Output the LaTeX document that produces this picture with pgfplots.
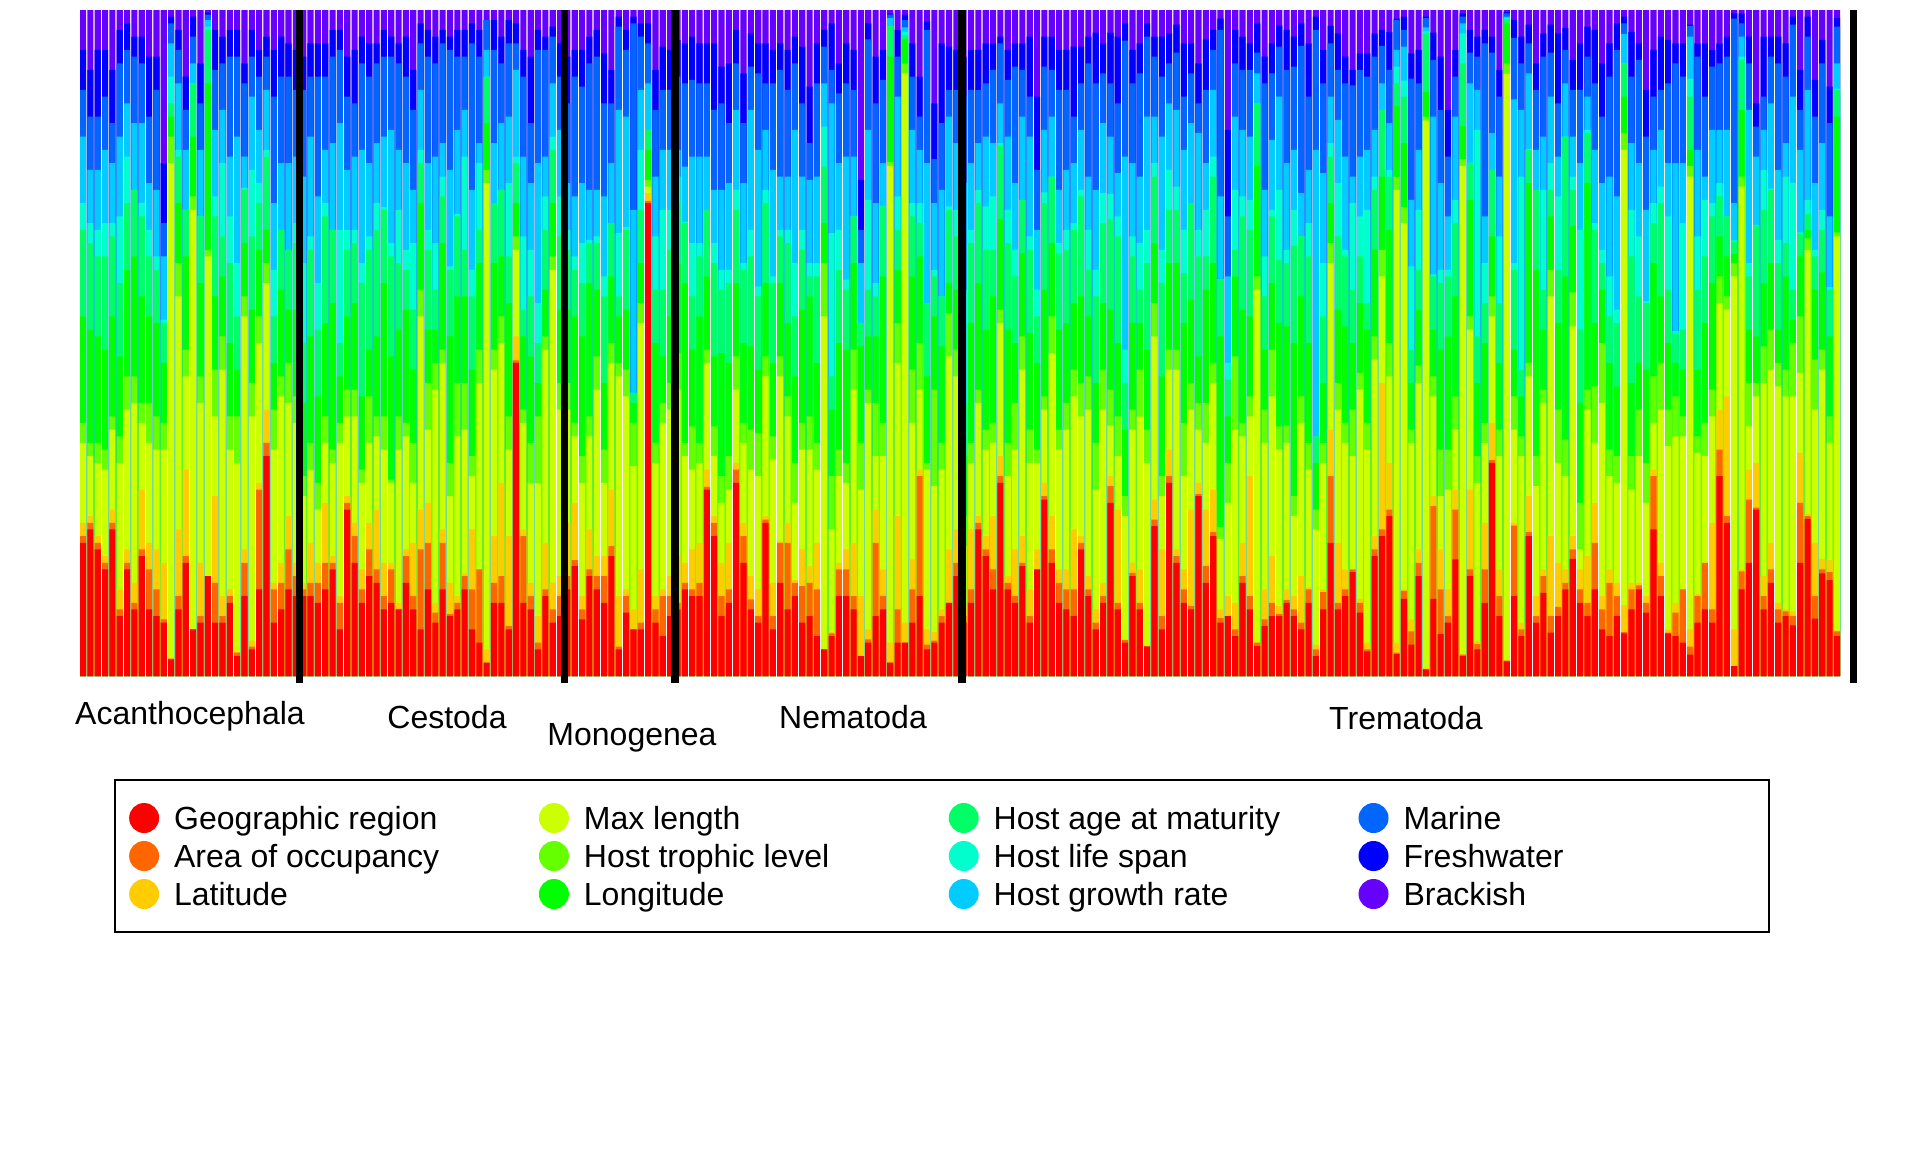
\documentclass[border=0pt]{standalone}
\usepackage{fontspec}
\setmainfont{Liberation Sans}
\usepackage{pgfplots}
\usepackage{pgfplotstable}
\pgfplotsset{compat=1.18}

\definecolor{cGeo}{HTML}{FF0000}
\definecolor{cArea}{HTML}{FF6600}
\definecolor{cLat}{HTML}{FFCC00}
\definecolor{cMax}{HTML}{CCFF00}
\definecolor{cTro}{HTML}{66FF00}
\definecolor{cLon}{HTML}{00FF00}
\definecolor{cAge}{HTML}{00FF66}
\definecolor{cLife}{HTML}{00FFCC}
\definecolor{cGrow}{HTML}{00CCFF}
\definecolor{cMar}{HTML}{0066FF}
\definecolor{cFresh}{HTML}{0000FF}
\definecolor{cBrack}{HTML}{6600FF}

% one stacked layer, drawn as a bar from 0 up to the layer's cumulative top
\pgfplotsset{lay/.style={ybar, bar width=0.8333, bar shift=0pt, draw=none, fill=#1, forget plot}}

% cumulative top of each layer (percent of the bar), one row per species
% rows 0-29 Acanthocephala, 30-65 Cestoda, 66-80 Monogenea, 81-119 Nematoda, 120-239 Trematoda
\pgfplotstableread{
gr ao la ml tl lo am ls gw ma fw bk
20 21 23 35 38 54 67 71 81 88 94 100
22 23 24 33 35 52 65 68 76 84 91 100
19 20 21 32 35 51 63 67 76 84 94 100
16 17 18 31 34 49 63 68 79 87 94 100
22 23 25 37 39 54 66 68 77 83 91 100
9 10 13 32 36 48 59 69 81 92 97 100
16 17 19 40 45 61 71 78 86 94 98 100
10 11 14 41 45 63 73 73 83 93 96 100
18 19 28 38 41 57 69 71 83 92 96 100
10 16 20 35 41 54 63 67 74 84 93 100
9 13 19 34 39 53 61 63 73 88 93 100
8 8.5 17 34 38 47 53 53.5 63 68 77 100
2.5 2.6 2.7 77 81 84 86 90 95 98 99 100
10 12 22 57 62 71 78 79 89 94 97 100
17 18 31 45 49 63 70 70 79 85 90 100
7 7 7 70 72 81 89 89 92 96 99 100
8 9 17 41 45 59 69 69 79 86 92 100
15 15 15 63 64 89 97 97.5 98.5 99.3 99.6 100
8 14 27 39 46 57 69 72 82 91 97 100
8 9 12 46 51 60 66 77 85 92 96 100
11 12 13 34 39 50 62 69 78 93 97 100
3 3.5 3.6 32 39 46 54 62 81 93 97 100
12 17 19 54 57 65 73 73.3 78 89 92 100
4 4.4 5.3 39 44 55 66 76 87 93 97 100
13 28 29 50 54 64 71 74 82 90 94 100
33 35 40 59 62 67 78 79 88 93 96 100
8 13 14 34 40 47 54 61 71 87 94 100
10 14 17 42 45 58 67 67 77 90 96 100
13 19 24 41 47 55 64 64 77 90 95 100
12 15 17 38 42 55 65 68 78 88 94 100
12 13 14 27 30 41 50 62 75 88 93 100
12 14 20 31 35 51 64 66 81 90 95 100
11 14 17 25 29 42 52 59 72 90 95 100
13 17 26 35 39 53 69 71 79 90 95 100
16 17 18 32 34 56 67 67 80 93 97 100
7 11 12 35 38 45 50 67 83 94 97 100
25 26 27 39 43 54 64 67 76 87 93 100
17 21 23 39 43 56 65 67 78 86 94 100
11 13 16 29 31 42 59 62 79 92 96 100
15 19 23 35 42 49 64 66 77 90 95 100
14 16 25 36 39 51 67 71 80 92 95 100
10 12 17 34 39 59 70 70.4 81 93 97 100
11 16 17 29 29.5 48 63 65 82 93 96 100
10 10.1 11 34 39 52 62 70 79 92 95 100
14 18 19 36 38 55 61 64 77 90 96 100
10 12 20 29 35 46 55 65 73 85 91 100
7 19 25 54 58 71 77 79 88 95 98 100
13 20 26 37 44 52 64 67 77 93 97 100
8 9.5 11 43 47 52 58 65 78 92 96 100
13 20 22 47 49 65 72 75 80 95 97 100
9 9.3 14 27 32 51 61 61.5 76 94 96 100
10 11 12 36 44 57 69 69.4 82 93 97 100
13 15 15.4 37 44 57 64 78 85 93 97 100
7 13 22 30 33 46 57 61 73 95 98 100
5 16 16 44 49 62 67 77 80 93 97 100
2 2 4 74 76 83 90 90 94 98.5 98.5 100
11 14 21 46 49 62 71 71 80 94 98.5 100
11 15 29 50 54 63 73 73 83 92 96 100
7 7.5 21 34 39 56 63 74 84 95 98.5 100
47 47.4 51 64 66 71 77 78 91 95 98 100
11 21 22 38 40 51 55 66 78 90 94 100
10 12 14 29 35 48 57 64 74 83 93 100
4 5 9 29 39 44 50 56 77 94 97 100
12 13 20 49 51 58 67 72 78 94 96 100
8 10 14 61 63 71 79 81 89 96 97.5 100
9 12 15 40 44 55 66 72 82 90 95 100
13 15 23 40 44 55 64 67 74 86 93 100
16.5 17.4 26 36 38 54 61 63 72 90 94 100
8.5 10 12 29 33 51 59 65 74 88.5 94 100
15 16 22 36 39 59 65 65.5 73 92 96 100
13 15 18 43 48 58 65 66 73 93 97 100
11 15 18 29 34 44 57 60 72 86 93.5 100
18 19.5 28 47 50 60 68 68 77 86 91 100
4 4.4 12 45 47 54 57 66.5 85 97.5 99 100
9.5 12 13 42 46 55 67 67.4 84 94 97 100
7 7 10 31.5 38 41 42.5 42.5 70 98 99 100
7 8 16 53 56 62 70 79 88 96 98 100
71 71.3 72.5 73.5 74.5 79 82 82 89 95 98 100
8 10 12 32 35 50 58 66 75 85 91 100
6 12 13 38 41 48 58 70 79 88 94.5 100
9 12 15 40 44 54 64 70 79 88 94 100
10 11 18 43 48.5 62 71 75 79 90 95.5 100
13 14 17 33 35 59 68 68.2 76.5 89 95 100
12 13 19 31 37.5 49 57 65 78 89.5 96 100
12 14 20 32 35 54 63 65 78 89 95 100
28 28.4 31 47 49 60 70 70 78 89 95 100
21 23 24 33 37.5 48 62 65 73 85 95 100
9 12 17 26 30 48.5 58 61 73 86 91.5 100
11 13 20 28 33 47 59 61 74 83 92 100
29 31 32 43 48 59 70 73 85 92 97 100
17 21 23 35 38 50 61 62 74 83 90.5 100
10 11.5 15 31 37 49.5 63 67 85 91.5 96.5 100
8 9 13 30 36.5 46 57 58.5 79 90.5 95 100
23 23.5 24 45 48 59 71 73 82 89 95 100
7 9 14 32.5 36 47 59 60 76 89 94 100
14 20 20.2 45 48 59 66 67 75 91 95 100
10 20 23 39 42 53 65 67 75 88 94 100
12 14 14.4 26 32 45 54 62 82 92 96 100
8 13.5 19 34 38 55 64 67 75 86 94.5 100
9 14 16.5 34 39 57 60 62 74.5 80 88.5 100
6 13 20 31 35 47 60 62 75 89 95 100
4 4 4 54 62 68 76.5 82.5 89 94.5 97 100
6 6.4 6.6 22 30 40 45 66.5 86 91 98 100
12 16 17 30 34 50 61 67 77 87.5 92 100
12 16 19 29 32 49 58 59.5 78 89 95 100
10 12 20 43 49 62 69 69 78 88 94 100
3 3 12 28 35 49.5 53 53 62 67 74.5 100
5 5.5 7 41 43 51 58 71.5 82 95.6 98 100
9 20 25 33 41 51 57 59 71 86 93 100
10 12 16 33 38 60 70.5 70.5 77 89.5 94 100
2 2 5 76.6 77.2 93 97.6 97.6 98.8 99.3 99.5 100
5 10 24 47 53 61 67 72 87 93 97 100
5 5 8 90.5 92 95.6 96.2 96.7 97.4 98.5 99.3 100
8 13 17.5 38 46 60 69 71 82 90 95 100
12 30 31 43 50 63 68 71 79 84 90 100
4 4.7 7 31 32 45 56 56 77 97 98.3 100
5 5.3 6.6 28.5 43 54 60 61 71 77.6 86 100
8 9 10 31 35 49.5 57 57 73 83 95 100
11 11 19 48 54.5 59 70 70.5 84 88 94.5 100
15 17 22 45 49 58 66 70 80 88 94 100
8 9 10.5 19.5 24 33 41 58 74 87 93 100
11 13 22 32 35 53 65 67 77 88 94 100
22 23 24 41 43 59 71 73 80 88 94 100
18 19 21 34 37 52 64 70.5 81 89 95 100
13 16 24 35 38 57 64 72 80 91 95 100
29 30 33 53 55 68.6 79.6 80 86 95 96 100
13 14 15 30 35 52 65 70 81 89.5 94 100
11 12 19 34 41 50 60 64 74 91.5 95 100
16.5 17 21 46 51 63.5 71.5 71.5 84 91 95 100
8 9 13 32 37 51.5 64 66 81 87 96 100
16 16 19 32 34 47 54 58 67 76 87 100
26.5 27 29 40 42 58 71 72.6 82 91.5 96 100
17 19 24 48.5 54 65 75 75 84 91 96 100
11 14 16 34 37 52 63.5 65 73 88 94 100
10 13 16 37 41 53 64 67 76 88 94 100
9 13 22 42 46 56 67 68 77 84 94.5 100
19 20 21 39 44 57 72 73 82 89 94.5 100
12 13 15 40 45 54 61 67 75 92 96 100
7 8 10 28 35 44 57 61 73 89 96.6 100
11 12 14 40 46 56 68 72.5 83 90.5 95 100
26 28.5 30 37.6 43 55 68.6 72.4 81 89 96.6 100
10 11 25 33 39 50 66 69 75.5 86 96 100
5 5.4 5.5 24 27 37 44 49 78 95.4 98 100
15 15.5 17 37 40 53 63 66 77 89 94 100
10 11 16 39 46 53 58 65 75 90.5 95 100
4.4 4.5 4.6 32 37 49 62 67 84 96 98 100
22.5 23.5 26.5 51 56 65 75 77 84 93 96 100
7 9 19 27 30 45 59 64 81 90 96 100
29 30 34 46 49 62 70 76 86 92 96.5 100
17 18 19 46 49 62 70 73.5 85 93.6 97.8 100
11 13 16 30 38 53 60.5 67 79 87 95 100
10 10.5 25 40 44 56.5 71 71 83 90.5 95 100
27 27.3 29 37 41 48 63 67 81.5 86 92 100
14 16.5 25 35 41 58 63 70 77 88 95.6 100
21 21.6 28 44 47 62 75 78 88 94 97 100
8 8.7 10 20.6 22.4 51 59.6 59.6 72 97 98.7 100
9 9 12 26 32 39 44.5 47 60 69 82 100
6 7 11 37 48 60 64 73 84 92 97 100
14 15 20 36 38 55 69 72 82 91 96 100
10 12 30 39 42 54 67 71.5 81 91 95 100
4.5 5 5 58 60 76.6 86 86 90.5 93.6 98 100
7.5 8.5 13 35 40 49 57 63 73 89 93 100
9 11 18 42 49 59 69 70 80.5 90.5 95 100
9 9.3 10.5 34 37.5 53 62.5 73 87 94.5 97.7 100
11 11.4 13 35 37.6 52.5 62 64 77 91 97 100
9 10 12 24 27 50 64.6 70 79 91.5 96 100
7 8 15 38 42 57 66 66 72.5 94.6 98 100
11 13 13.3 31 35 50 63 68 76 87 95 100
3 4 4.7 22 25 32 36 36 79 97 99 100
10 12.6 13 32 35 44 54 62 75.5 89 94 100
20 30 37 62 65 71 78 80 87 95 97.6 100
10 11 20 40 44 55 66 74 83.5 91 96.5 100
12 13 16 35 38 52.5 63 64 78 89 93 100
15.6 16 16 33 40 50 58 71 75 88.7 91 100
9.5 11 11.6 43 45.5 56 63 69 78 91 93.5 100
3.7 4 5 34 38 52 56 70 79 90 93.5 100
18 19 21 47.5 51 64 73 75 82 93 96.5 100
21 22 44 60 64 75 85 85 89 94.6 97 100
24 25 32 45 50 67 75 76 83 91 96.7 100
3.3 3.5 5 73 75 85.6 89 91.5 94 98.5 98.7 100
11.6 12.8 13 68 70.4 80 87 89.4 94.5 97 99 100
4.7 6.7 8.5 35 37 44 49 61.5 71.5 89.7 93.5 100
15 17 19 44 46.6 55 61 70 79 89 94 100
1 1 1.2 83.4 84 87.7 96.5 96.8 97.4 98.8 99 100
11.6 25.5 27 42 45 52 60 60.3 84 92.5 96.6 100
6.3 13 19 27 34 49 59 61 74 85 93 100
8 9 13 28 34 51 60 61 69 78 85 100
17.5 25 28 37 42 57 68 71.5 84 90 94 100
3 3.2 3.3 76.6 77.6 82.6 92 96.5 98 99 99.5 100
15 16 28 52 54 71.5 77 77.1 89 93.6 97 100
4 4.8 5.2 29 33 44 51 82 88 93 96 100
11 16 23 35 38 50 56 62 69 95 97 100
32 32.4 38 54 57 66 76 76 81.5 93.6 96 100
9 12 16 33 37 47 56 66 75 87 91 100
2.2 2.3 2.4 90.4 92 98 98.6 98.8 99 99.5 99.7 100
12 22.6 23 37 42 49 61 62 86.6 95.8 98.5 100
6 7 8 33 36 42 46 75 85 92 96 100
21 21.6 27 45 47 74 79 79.1 90.5 95 97.8 100
8 9 12 28.5 33 61 73 73 79 88 92 100
12.5 15 16 41 43 52 58 73 81 93 96.5 100
6.5 9 21 57 61 69 73 77 87 93.6 97.8 100
9 10.4 17 32 40 53 61 72 78 86 96.5 100
13 14 16 30 35.5 60 81 81 89 94 97.3 100
17.6 19 21 52.5 57.6 67.6 73 75 81 88 92.5 100
11 13 16 19 26 41 52 67 77 88 95 100
9 11 18 40 43 74 81.5 82 87 93 97.5 100
13 20 26 35 43.5 53 67 68 79 89 97 100
7 10 12 41 50 58 62 64 74 84 92 100
6 14 16 30 34 47 54 60 75 90 95 100
9 12 14 29 33 43.5 53 55 72 94 98 100
6.4 6.6 10.6 79 81.5 87 92 92 96.4 98 99 100
10 13 14 28 33 44 63 70 80 90 96.7 100
13 13.6 14 33 40 47 57 66 77 92.5 95 100
9.5 11 12 26 32 46 56 56.3 70 81 88 100
22 30 31 38 45 62 68 71 79 87 94 100
12 15 17 40 47 57 71 73.5 82 88 96 100
6.4 6.5 7 34.5 40 50 58 69 77 89 95.5 100
6 9.5 11 36 42 47 51.4 51.8 77 92 95 100
5 13 13.1 36 39 46 52 68 77 90 95 100
3.2 4.4 7 75 76.6 79 87 89.7 96 97.6 97.8 100
8 12 12.3 33.5 36 46 58 66 79 93 95 100
10 17 17 33 38 53 63 71.5 75 87 95 100
8 10 23 39 43 59 69 71 82 91.5 94 100
30 34 40 56 60 66 72 74 82 92 95 100
23 24 42 55 57 63 69 69 82 93 96 100
1.5 1.5 7 60 62 63.4 65.2 65.4 71 98.7 99.5 100
13 15.7 16 73.5 75 85 92.5 93 96 98 99.5 100
17 26.5 31 37.5 44 52 60 62 85 92 96 100
25 25.3 32 42 44 51 67.6 67.7 78 82.5 86 100
10 12 15 44 49.5 59 70 76 82 87 96 100
14 16 20 46 52 62 73 73.2 86 93 96 100
8 10 11 43.5 47 52 62 65.5 76 92 96 100
9 9.7 10 42 46 60 65 75 80 90 95 100
7.6 9 9.7 42 50 53.5 58 74 87 97.8 99 100
17 26 33.5 45.5 54 63 66.4 66.6 79 85 91 100
23.6 24 24.4 64 65.7 67 69.4 71.5 88 96 99 100
8.6 12 20 40 47.5 58 63 64 74 84 89.5 100
15.4 16 17.6 46 49 60.6 67 70 80 92 95.5 100
14.4 15.6 17.4 35 39 51 58 58.4 69 83 88.5 100
6 6.7 6.8 66 66.6 84 88 88.2 92 97.5 98.8 100
}\data

\begin{document}
\begin{tikzpicture}
\useasboundingbox (0,0) rectangle (960pt,-576pt);
\begin{axis}[
    at={(40pt,-338pt)}, anchor=south west,
    scale only axis, width=880pt, height=333pt,
    xmin=-0.4167, xmax=239.4167,
    ymin=0, ymax=100,
    hide axis, clip=false,
    legend columns=4,
    legend image code/.code={\fill[#1] (0pt,0pt) circle (7pt);},
    legend style={
        at={(0.0194,-0.15465)}, anchor=north west,
        draw=black, line width=1pt, fill=white,
        inner xsep=7pt, inner ysep=10pt,
        row sep=1pt, column sep=7.5pt,
        /tikz/every even column/.append style={column sep=13pt},
        font=\fontsize{16}{19}\selectfont,
        cells={anchor=west},
        nodes={inner sep=0pt, text height=14.5pt, text depth=3.5pt},
    },
]
% legend, filled row by row as in the reference
\addlegendimage{cGeo}\addlegendentry{\makebox[169.4pt][l]{Geographic region}}
\addlegendimage{cMax}\addlegendentry{\makebox[169.4pt][l]{Max length}}
\addlegendimage{cAge}\addlegendentry{\makebox[169.4pt][l]{Host age at maturity}}
\addlegendimage{cMar}\addlegendentry{\makebox[175.7pt][l]{Marine}}
\addlegendimage{cArea}\addlegendentry{\makebox[169.4pt][l]{Area of occupancy}}
\addlegendimage{cTro}\addlegendentry{\makebox[169.4pt][l]{Host trophic level}}
\addlegendimage{cLife}\addlegendentry{\makebox[169.4pt][l]{Host life span}}
\addlegendimage{cFresh}\addlegendentry{\makebox[175.7pt][l]{Freshwater}}
\addlegendimage{cLat}\addlegendentry{\makebox[169.4pt][l]{Latitude}}
\addlegendimage{cLon}\addlegendentry{\makebox[169.4pt][l]{Longitude}}
\addlegendimage{cGrow}\addlegendentry{\makebox[169.4pt][l]{Host growth rate}}
\addlegendimage{cBrack}\addlegendentry{\makebox[175.7pt][l]{Brackish}}

% layers, tallest cumulative first
\addplot[lay=cBrack] table[x expr=\coordindex, y=bk] {\data};
\addplot[lay=cFresh] table[x expr=\coordindex, y=fw] {\data};
\addplot[lay=cMar]   table[x expr=\coordindex, y=ma] {\data};
\addplot[lay=cGrow]  table[x expr=\coordindex, y=gw] {\data};
\addplot[lay=cLife]  table[x expr=\coordindex, y=ls] {\data};
\addplot[lay=cAge]   table[x expr=\coordindex, y=am] {\data};
\addplot[lay=cLon]   table[x expr=\coordindex, y=lo] {\data};
\addplot[lay=cTro]   table[x expr=\coordindex, y=tl] {\data};
\addplot[lay=cMax]   table[x expr=\coordindex, y=ml] {\data};
\addplot[lay=cLat]   table[x expr=\coordindex, y=la] {\data};
\addplot[lay=cArea]  table[x expr=\coordindex, y=ao] {\data};
\addplot[lay=cGeo]   table[x expr=\coordindex, y=gr] {\data};

% group separators
\addplot[black, line width=3.8pt, forget plot] coordinates {(29.5,-1.1) (29.5,100)};
\addplot[black, line width=3.8pt, forget plot] coordinates {(65.6,-1.1) (65.6,100)};
\addplot[black, line width=3.8pt, forget plot] coordinates {(80.65,-1.1) (80.65,100)};
\addplot[black, line width=3.8pt, forget plot] coordinates {(119.75,-1.1) (119.75,100)};
\addplot[black, line width=3.8pt, forget plot] coordinates {(241.25,-1.1) (241.25,100)};
\end{axis}
\begin{scope}[font=\fontsize{16}{19}\selectfont]
\node[anchor=base, inner sep=0pt] at (95pt,-362.2pt) {Acanthocephala};
\node[anchor=base, inner sep=0pt] at (223.5pt,-364.2pt) {Cestoda};
\node[anchor=base, inner sep=0pt] at (316pt,-372.5pt) {Monogenea};
\node[anchor=base, inner sep=0pt] at (426.5pt,-364pt) {Nematoda};
\node[anchor=base, inner sep=0pt] at (703pt,-364.5pt) {Trematoda};
\end{scope}
\end{tikzpicture}
\end{document}
